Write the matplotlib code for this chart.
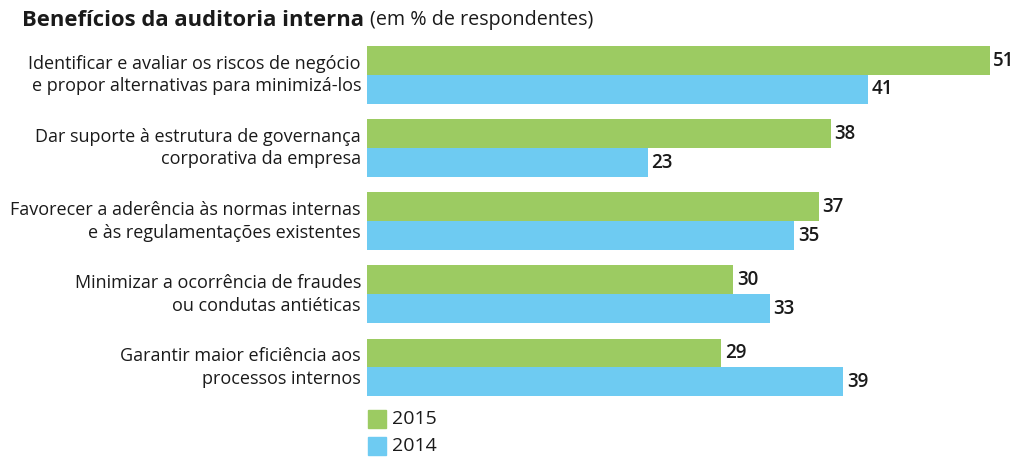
import matplotlib
matplotlib.use("Agg")
import matplotlib.pyplot as plt
from matplotlib.patches import Rectangle
import numpy as np

plt.rcParams['font.family'] = ['Open Sans', 'DejaVu Sans']

categories = [
    "Identificar e avaliar os riscos de negócio\ne propor alternativas para minimizá-los",
    "Dar suporte à estrutura de governança\ncorporativa da empresa",
    "Favorecer a aderência às normas internas\ne às regulamentações existentes",
    "Minimizar a ocorrência de fraudes\nou condutas antiéticas",
    "Garantir maior eficiência aos\nprocessos internos",
]
vals_2015 = [51, 38, 37, 30, 29]
vals_2014 = [41, 23, 35, 33, 39]
series = ["2015", "2014"]
colors = ["#9ccb62", "#6ecbf2"]

W, H = 1024, 463
fig = plt.figure(figsize=(W / 100, H / 100), dpi=100)
ax = fig.add_axes([367 / W, 0, 1 - 367 / W, 1])
ax.set_xlim(0, (W - 367) / 12.21)
step = 73.1
ax.set_ylim((H - 75) / step, -75 / step)
ax.axis("off")

y = np.arange(len(categories))
bh = 0.395
ax.barh(y - bh / 2, vals_2015, height=bh, color=colors[0])
ax.barh(y + bh / 2, vals_2014, height=bh, color=colors[1])

for i in range(len(categories)):
    ax.text(vals_2015[i] + 0.3, y[i] - bh / 2, str(vals_2015[i]), va="center", ha="left",
            fontsize=13.5, fontweight="semibold", color="#1a1a1a")
    ax.text(vals_2014[i] + 0.3, y[i] + bh / 2, str(vals_2014[i]), va="center", ha="left",
            fontsize=13.5, fontweight="semibold", color="#1a1a1a")
    ax.text(-6 / 12.21, y[i], categories[i], ha="right", va="center", fontsize=13.0,
            color="#1a1a1a", linespacing=1.33, clip_on=False)

# title
t1 = fig.text(22 / W, 1 - 20 / H, "Benefícios da auditoria interna", fontsize=15.8,
              fontweight="bold", va="center", ha="left", color="#1a1a1a")
fig.canvas.draw()
bb = t1.get_window_extent()
fig.text(bb.x1 / W + 6 / W, 1 - 20 / H, "(em % de respondentes)", fontsize=14.2,
         va="center", ha="left", color="#1a1a1a")

# legend
for k, (lab, c) in enumerate(zip(series, colors)):
    top = 410 + k * 27
    fig.patches.append(Rectangle((368 / W, 1 - (top + 18) / H), 18 / W, 18 / H,
                                 transform=fig.transFigure, color=c))
    fig.text(392 / W, 1 - (top + 9) / H, lab, fontsize=14, va="center", ha="left",
             color="#1a1a1a")

fig.savefig("out.png", dpi=100)
